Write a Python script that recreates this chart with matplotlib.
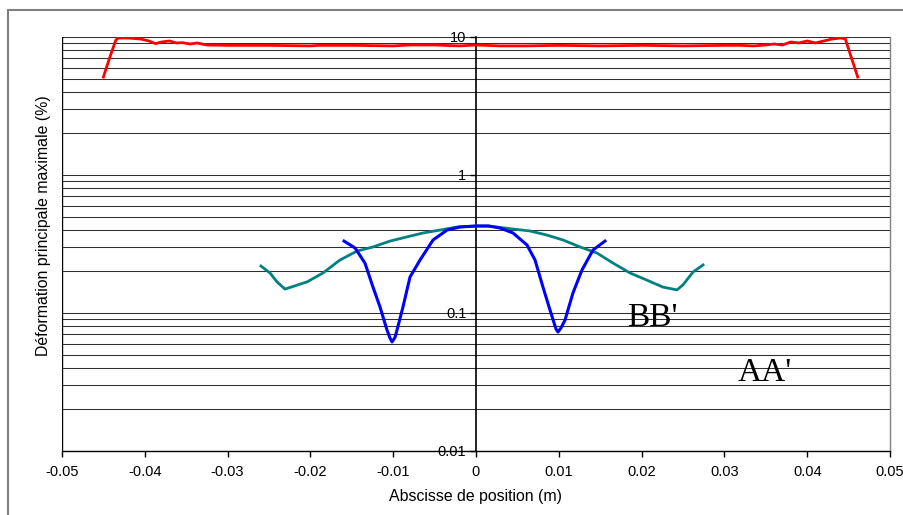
import matplotlib
matplotlib.use("Agg")
import matplotlib.pyplot as plt
from matplotlib.patches import Rectangle
from matplotlib.ticker import LogLocator, FixedLocator

plt.rcParams['font.family'] = ['Liberation Sans', 'DejaVu Sans']

# ---- data ----
red_x = [-0.0450, -0.0442, -0.0435, -0.0432, -0.0420, -0.0405, -0.0395, -0.0387,
         -0.0380, -0.0370, -0.0362, -0.0355, -0.0345, -0.0337, -0.0325, -0.0300,
         -0.0250, -0.0200, -0.0190, -0.0150, -0.0100, -0.0080, -0.0050, -0.0020,
         0.0000, 0.0030, 0.0060, 0.0100, 0.0150, 0.0200, 0.0250, 0.0300, 0.0320,
         0.0335, 0.0350, 0.0360, 0.0370, 0.0380, 0.0390, 0.0400, 0.0410, 0.0420,
         0.0430, 0.0440, 0.0446, 0.0452, 0.0461]
red_y = [5.13, 7.2, 9.5, 9.83, 9.83, 9.67, 9.36, 8.95, 9.20, 9.36, 9.05, 9.10,
         8.90, 9.05, 8.75, 8.70, 8.70, 8.62, 8.70, 8.70, 8.62, 8.75, 8.75, 8.62,
         8.75, 8.62, 8.62, 8.70, 8.62, 8.70, 8.62, 8.70, 8.70, 8.62, 8.75, 8.90,
         8.75, 9.20, 9.05, 9.36, 9.05, 9.36, 9.67, 9.83, 9.70, 7.50, 5.13]

teal_x = [-0.02597, -0.02488, -0.02403, -0.02307, -0.02041, -0.01848, -0.01643,
          -0.01437, -0.01244, -0.01039, -0.00833, -0.00640, -0.00435, -0.00229,
          0.0000, 0.00150, 0.00447, 0.00652, 0.00857, 0.01051, 0.01256, 0.01461,
          0.01655, 0.01860, 0.02065, 0.02258, 0.02428, 0.02500, 0.02621, 0.02742]
teal_y = [0.219, 0.195, 0.168, 0.149, 0.168, 0.195, 0.242, 0.281, 0.301, 0.332,
          0.356, 0.380, 0.399, 0.420, 0.427, 0.427, 0.406, 0.393, 0.367, 0.338,
          0.301, 0.272, 0.230, 0.195, 0.173, 0.154, 0.147, 0.160, 0.198, 0.223]

blue_x = [-0.01594, -0.01461, -0.01341, -0.01244, -0.01159, -0.01075, -0.01039,
          -0.01014, -0.00978, -0.00954, -0.00882, -0.00797, -0.00676, -0.00519,
          -0.00350, -0.00193, 0.0000, 0.00150, 0.00290, 0.00447, 0.00616, 0.00713,
          0.00809, 0.00894, 0.00966, 0.00990, 0.01026, 0.01075, 0.01171, 0.01280,
          0.01413, 0.01558]
blue_y = [0.332, 0.296, 0.230, 0.154, 0.1105, 0.0753, 0.0659, 0.0617, 0.0666,
          0.0753, 0.1105, 0.1823, 0.242, 0.338, 0.399, 0.420, 0.427, 0.427, 0.413,
          0.380, 0.311, 0.242, 0.154, 0.105, 0.0766, 0.0728, 0.0779, 0.0889,
          0.1397, 0.205, 0.286, 0.332]

x_ticks = [-0.05, -0.04, -0.03, -0.02, -0.01, 0, 0.01, 0.02, 0.03, 0.04, 0.05]
x_tick_labels = ['-0.05', '-0.04', '-0.03', '-0.02', '-0.01', '0', '0.01', '0.02',
                 '0.03', '0.04', '0.05']
y_ticks = [0.01, 0.1, 1, 10]
y_tick_labels = ['0.01', '0.1', '1', '10']

annotations = [("BB'", 0.0182, 0.0805), ("AA'", 0.0316, 0.0321)]

# ---- figure ----
W, H = 904, 515
fig = plt.figure(figsize=(W / 100, H / 100), dpi=100)
fig.patch.set_facecolor('white')
ax = fig.add_axes([62 / W, (H - 451) / H, (890 - 62) / W, (451 - 37) / H])

ax.set_yscale('log')
ax.set_xlim(-0.05, 0.05)
ax.set_ylim(0.01, 10)

ax.yaxis.set_minor_locator(LogLocator(base=10, subs=range(2, 10)))
ax.yaxis.grid(True, which='both', color='#303030', linewidth=0.75)
ax.set_axisbelow(True)

ax.plot(red_x, red_y, color='#ff0000', linewidth=2.0, zorder=3)
ax.plot(teal_x, teal_y, color='#008080', linewidth=2.0, zorder=3)
ax.plot(blue_x, blue_y, color='#0000ff', linewidth=2.2, zorder=4,
        solid_joinstyle='round')

for txt, xx, yy in annotations:
    ax.text(xx, yy, txt, family='Liberation Serif', fontsize=24,
            ha='left', va='baseline', color='black', zorder=5)

ax.spines['left'].set_position(('data', 0))
ax.spines['left'].set_color('black')
ax.spines['left'].set_linewidth(1.2)
ax.spines['left'].set_zorder(2.5)
ax.spines['top'].set_visible(False)
ax.spines['right'].set_color('#808080')
ax.spines['right'].set_linewidth(1.0)
ax.spines['bottom'].set_color('black')
ax.spines['bottom'].set_linewidth(1.0)
ax.axvline(-0.05, color='black', linewidth=1.0, zorder=2.5)

ax.set_xticks(x_ticks)
ax.set_xticklabels(x_tick_labels)
ax.yaxis.set_major_locator(FixedLocator(y_ticks))
ax.set_yticklabels(y_tick_labels)
ax.tick_params(axis='y', which='minor', length=0)
ax.tick_params(axis='y', which='major', length=4, width=1, direction='out',
               labelsize=10.5, pad=3)
ax.tick_params(axis='x', which='major', length=4, width=1, direction='out',
               labelsize=10.5, pad=6)

ax.set_xlabel('Abscisse de position (m)', fontsize=11.4, labelpad=7)
fig.text(44 / W, 1 - 226 / H, 'Déformation principale maximale (%)',
         rotation=90, ha='center', va='center', fontsize=11.4)

# outer frame (right and bottom edges lie outside the picture)
fig.patches.append(Rectangle((8 / W, -20 / H), 1.2, (H - 10 + 20) / H,
                             transform=fig.transFigure, fill=False,
                             edgecolor='#808080', linewidth=1.5))

fig.savefig('out.png', dpi=100)
